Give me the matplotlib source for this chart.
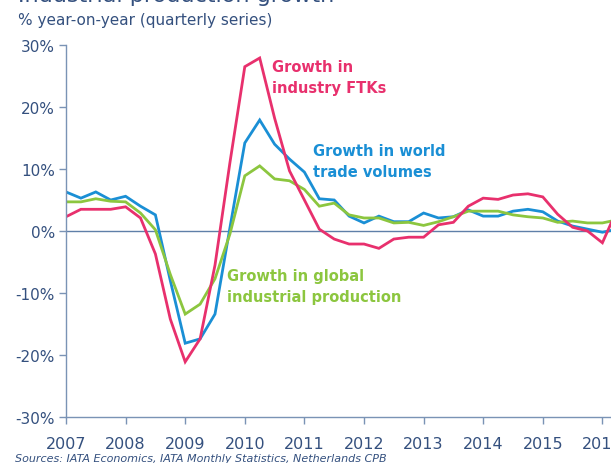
import matplotlib
matplotlib.use("Agg")
import matplotlib.pyplot as plt
import numpy as np

# Quarterly series starting 2007 Q1
quarters = np.arange(38) * 0.25 + 2007.0
ftk_growth = [2.3, 3.5, 3.5, 3.5, 3.9, 2.1, -3.7, -14.2, -21.1, -17.4, -5.5, 11.0,
              26.5, 27.9, 18.2, 9.7, 5.0, 0.3, -1.3, -2.1, -2.1, -2.8, -1.3, -1.0,
              -1.0, 1.0, 1.4, 4.0, 5.3, 5.1, 5.8, 6.0, 5.5, 2.7, 0.6, 0.0, -1.9, 3.5]
trade_growth = [6.3, 5.3, 6.3, 5.0, 5.6, 4.0, 2.6, -8.0, -18.1, -17.4, -13.4, 0.5,
                14.2, 17.9, 14.0, 11.6, 9.5, 5.2, 5.0, 2.4, 1.3, 2.4, 1.5, 1.5,
                2.9, 2.1, 2.3, 3.4, 2.4, 2.4, 3.2, 3.5, 3.1, 1.6, 0.8, 0.3, -0.2, 0.3]
ip_growth = [4.7, 4.7, 5.2, 4.8, 4.7, 2.9, 0.2, -7.0, -13.4, -11.8, -7.7, -0.5,
             8.9, 10.5, 8.4, 8.1, 6.7, 4.0, 4.5, 2.6, 2.1, 2.1, 1.3, 1.4,
             0.9, 1.5, 2.3, 3.2, 3.2, 3.2, 2.6, 2.3, 2.1, 1.4, 1.6, 1.3, 1.3, 1.8]

years = list(range(2007, 2017))
year_labels = [str(y) for y in years]
y_ticks = [-30, -20, -10, 0, 10, 20, 30]
y_labels = [f"{v}%" for v in y_ticks]

PINK = "#E8306D"
BLUE = "#1A8FD5"
GREEN = "#8CC63F"
TEXT = "#34507E"
AXIS = "#7A93B5"

W, H = 611, 464
fig = plt.figure(figsize=(W / 100, H / 100), dpi=100)
ax = fig.add_axes([66 / W, 1 - 418 / H, 1 - 66 / W, (418 - 46) / H])

ax.plot(quarters, trade_growth, color=BLUE, lw=2.0, solid_joinstyle="miter")
ax.plot(quarters, ip_growth, color=GREEN, lw=2.0, solid_joinstyle="miter")
ax.plot(quarters, ftk_growth, color=PINK, lw=2.0, solid_joinstyle="miter")

ax.axhline(0, color="#5F7FA8", lw=1.0, zorder=1)

ax.set_xlim(2007.0, 2007.0 + (W - 66) / 59.6)
ax.set_ylim(-30, 30)
ax.set_xticks(years)
ax.set_xticklabels(year_labels)
ax.set_yticks(y_ticks)
ax.set_yticklabels(y_labels)

for s in ["top", "right"]:
    ax.spines[s].set_visible(False)
for s in ["left", "bottom"]:
    ax.spines[s].set_color(AXIS)
    ax.spines[s].set_linewidth(1.0)
ax.tick_params(axis="both", colors=AXIS, labelcolor=TEXT, length=5, width=1.0,
               direction="out")
ax.tick_params(axis="x", labelsize=11.5, pad=9)
ax.tick_params(axis="y", labelsize=11, pad=3)
ax.patch.set_alpha(0)

def fx(px):
    return px / W

def fy(py):
    return 1 - py / H

# Title is mostly cropped off at the top in the reference
fig.text(fx(18), fy(1.5), "Industrial production growth", fontsize=16, color=TEXT,
         va="baseline", ha="left")
fig.text(fx(18), fy(20), "% year-on-year (quarterly series)", fontsize=11,
         color=TEXT, va="center", ha="left")
fig.text(fx(15), fy(459), "Sources: IATA Economics, IATA Monthly Statistics, Netherlands CPB",
         fontsize=8, style="italic", color=TEXT, va="center", ha="left")

fig.text(fx(272), fy(78), "Growth in\nindustry FTKs", fontsize=10.5, fontweight="bold",
         color=PINK, va="center", ha="left", linespacing=1.45)
fig.text(fx(313), fy(162), "Growth in world\ntrade volumes", fontsize=10.5, fontweight="bold",
         color=BLUE, va="center", ha="left", linespacing=1.45)
fig.text(fx(227), fy(287), "Growth in global\nindustrial production", fontsize=10.5,
         fontweight="bold", color=GREEN, va="center", ha="left", linespacing=1.45)

fig.savefig("out.png", dpi=100)
